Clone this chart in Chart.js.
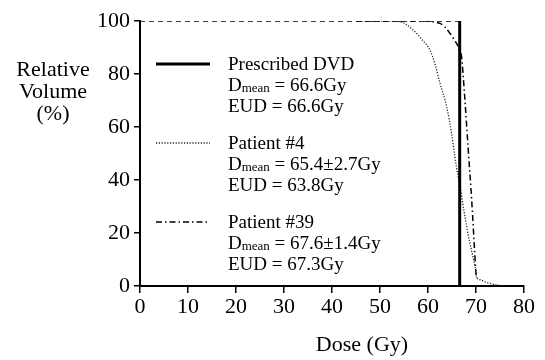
<!DOCTYPE html>
<html>
<head>
<meta charset="utf-8">
<title>Dose-volume histogram</title>
<script src="https://cdn.jsdelivr.net/npm/chart.js@4/dist/chart.umd.min.js"></script>
<style>
  html, body { margin: 0; padding: 0; background: #fff; }
  #wrap { width: 545px; height: 360px; }
</style>
</head>
<body>
<div id="wrap"><canvas id="dvh" width="545" height="360"></canvas></div>
<script>
// Prescribed step DVD: flat at 100 % up to the prescription dose, then straight down
const prescribedDose   = [0, 66.6, 66.6];
const prescribedVolume = [100, 100, 0];

// Patient #4 cumulative DVH
const patient4Dose   = [45, 50, 54, 56.9, 58.5, 60.4, 61.5, 62.5, 63.9, 64.9, 65.6, 66.2, 66.7, 67.2, 67.7, 68.2, 68.75, 69.3, 69.8, 70.1, 71, 72, 73, 74, 75.6, 76];
const patient4Volume = [100, 100, 99.8, 96.6, 93.5, 89, 83.5, 76.5, 67.6, 57.6, 48.8, 42, 37.5, 31.5, 26.2, 21, 16.1, 11.5, 7.3, 3.5, 2.3, 1.5, 1.0, 0.5, 0.1, 0];

// Patient #39 cumulative DVH
const patient39Dose   = [45, 55, 59, 61, 62.5, 63.5, 64.6, 65.5, 66.3, 67.0, 67.3, 67.7, 68.4, 69.1, 69.7, 70.0, 70.2];
const patient39Volume = [100, 100, 100, 99.7, 99.1, 97.8, 95.3, 92.8, 90.3, 86.5, 80, 70, 51, 32.5, 13.6, 4.8, 3];

// Legend entries: name, mean dose text, EUD text
const legendNames = ['Prescribed DVD', 'Patient #4', 'Patient #39'];
const legendDmean = ['66.6Gy', '65.4\u00B12.7Gy', '67.6\u00B11.4Gy'];
const legendEUD   = ['66.6Gy', '63.8Gy', '67.3Gy'];

const yTitleLines = ['Relative', 'Volume', '(%)'];
const xTitle = 'Dose (Gy)';

const SERIF = '"Liberation Serif", "Times New Roman", serif';

function pts(xs, ys) { return xs.map((x, i) => ({ x: x, y: ys[i] })); }

const styles = [
  { width: 3, dash: [] },
  { width: 1.3, dash: [1.2, 1.6] },
  { width: 1.5, dash: [6, 3, 1.5, 3] }
];

// Legend, axis titles drawn as text on the canvas
const annotations = {
  id: 'annotations',
  afterDraw(chart) {
    const ctx = chart.ctx;
    ctx.save();
    ctx.fillStyle = '#000';
    ctx.textBaseline = 'middle';

    // y title (horizontal, three lines)
    ctx.font = '22px ' + SERIF;
    ctx.textAlign = 'center';
    const yTitleY = [70, 92, 114];
    yTitleLines.forEach((t, i) => ctx.fillText(t, 53, yTitleY[i]));

    // x title
    ctx.fillText(xTitle, 362, 345);

    // legend
    const blockY = [64, 143, 222];
    const lineGap = 21;
    const textX = 228;
    ctx.textAlign = 'left';
    ctx.textBaseline = 'alphabetic';
    legendNames.forEach((name, i) => {
      const y0 = blockY[i];
      // sample line
      ctx.save();
      ctx.strokeStyle = i === 1 ? '#222' : '#000';
      ctx.lineWidth = styles[i].width;
      ctx.setLineDash(styles[i].dash);
      ctx.beginPath();
      ctx.moveTo(156, y0);
      ctx.lineTo(210, y0);
      ctx.stroke();
      ctx.restore();

      const base = y0 + 6;
      ctx.font = '19px ' + SERIF;
      ctx.fillText(name, textX, base);
      // D with "mean" in a smaller font
      const b2 = base + lineGap;
      ctx.fillText('D', textX, b2);
      let x = textX + ctx.measureText('D').width;
      ctx.font = '13px ' + SERIF;
      ctx.fillText('mean', x, b2 + 1);
      x += ctx.measureText('mean').width;
      ctx.font = '19px ' + SERIF;
      ctx.fillText(' = ' + legendDmean[i], x, b2);
      ctx.fillText('EUD = ' + legendEUD[i], textX, base + 2 * lineGap);
    });
    ctx.restore();
  }
};

new Chart(document.getElementById('dvh'), {
  type: 'line',
  data: {
    datasets: [
      {
        label: legendNames[0],
        data: pts(prescribedDose, prescribedVolume),
        borderColor: '#000',
        borderWidth: 3,
        pointRadius: 0,
        segment: {
          borderDash: c => c.p0DataIndex === 0 ? [5, 4] : [],
          borderWidth: c => c.p0DataIndex === 0 ? 1.5 : 3
        }
      },
      {
        label: legendNames[1],
        data: pts(patient4Dose, patient4Volume),
        borderColor: '#222',
        borderWidth: styles[1].width,
        borderDash: styles[1].dash,
        pointRadius: 0,
        cubicInterpolationMode: 'monotone'
      },
      {
        label: legendNames[2],
        data: pts(patient39Dose, patient39Volume),
        borderColor: '#000',
        borderWidth: styles[2].width,
        borderDash: styles[2].dash,
        pointRadius: 0,
        cubicInterpolationMode: 'monotone'
      }
    ]
  },
  options: {
    responsive: false,
    animation: false,
    layout: { padding: { left: 0, right: 21, top: 21, bottom: 0 } },
    plugins: { legend: { display: false }, tooltip: { enabled: false } },
    scales: {
      x: {
        type: 'linear',
        min: 0, max: 80,
        ticks: { stepSize: 10, color: '#000', font: { family: SERIF, size: 22 }, padding: 1, maxRotation: 0 },
        grid: { drawOnChartArea: false, drawTicks: true, tickLength: 7, color: '#000', lineWidth: 1.5 },
        border: { display: true, color: '#000', width: 2 },
        afterFit(s) { s.height = 74; }
      },
      y: {
        type: 'linear',
        min: 0, max: 100,
        ticks: { stepSize: 20, color: '#000', font: { family: SERIF, size: 22 }, padding: 4 },
        grid: { drawOnChartArea: false, drawTicks: true, tickLength: 6, color: '#000', lineWidth: 1.5 },
        border: { display: true, color: '#000', width: 2 },
        afterFit(s) { s.width = 140; }
      }
    }
  },
  plugins: [annotations]
});
</script>
</body>
</html>
